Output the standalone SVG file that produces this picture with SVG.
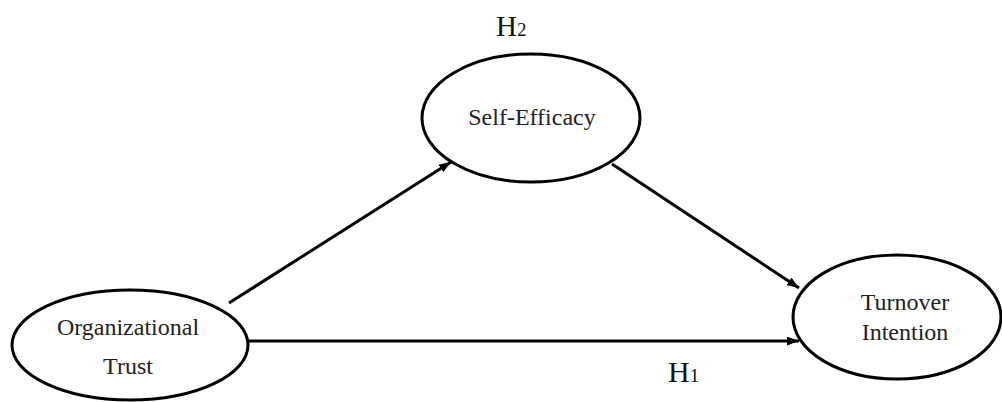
<svg xmlns="http://www.w3.org/2000/svg" width="1002" height="402" viewBox="0 0 1002 402">
<style>
.node ellipse{fill:#fff;stroke:#000;stroke-width:3}
.lbl{font-family:"Liberation Serif","Times New Roman",serif;font-size:24px;fill:#222;text-anchor:middle}
.h{font-family:"Liberation Serif","Times New Roman",serif;fill:#111}
.edge{stroke:#000;stroke-width:3;fill:none;marker-end:url(#arr)}
</style>
<defs>
<marker id="arr" markerWidth="4" markerHeight="3" refX="4" refY="1.5" orient="auto" markerUnits="strokeWidth">
<path d="M0,0 L4,1.5 L0,3 Z" fill="#000"/>
</marker>
</defs>
<rect width="1002" height="402" fill="#fff"/>
<g id="connectors">
<line class="edge" x1="229" y1="303" x2="451" y2="162"/>
<line class="edge" x1="612" y1="164" x2="799" y2="288"/>
<line class="edge" x1="248" y1="341" x2="799" y2="341"/>
</g>
<g id="org-trust" class="node">
<ellipse cx="130" cy="345" rx="118" ry="55"/>
<text class="lbl" x="128" y="335">Organizational</text>
<text class="lbl" x="128" y="374">Trust</text>
</g>
<g id="self-efficacy" class="node">
<ellipse cx="531" cy="118" rx="109" ry="64"/>
<text class="lbl" x="532" y="125">Self-Efficacy</text>
</g>
<g id="turnover-intention" class="node">
<ellipse cx="897" cy="317" rx="104" ry="62"/>
<text class="lbl" x="905" y="310">Turnover</text>
<text class="lbl" x="905" y="340">Intention</text>
</g>
<g id="labels">
<text class="h" x="496" y="36" font-size="29">H<tspan font-size="19">2</tspan></text>
<text class="h" x="668" y="382" font-size="30">H<tspan font-size="19">1</tspan></text>
</g>
</svg>
